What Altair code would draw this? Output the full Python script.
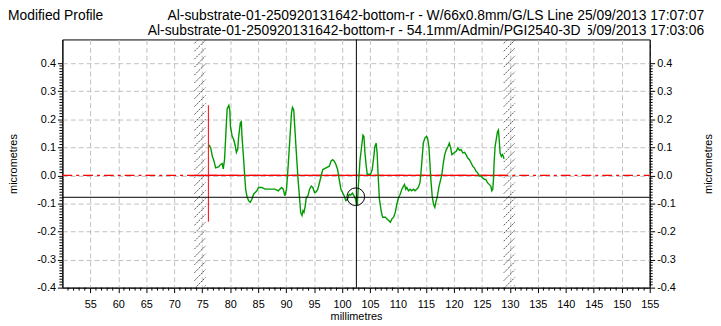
import altair as alt
import pandas as pd
import numpy as np

# ---------------- data ----------------
profile_mm = [
    76.22, 76.52, 76.81, 77.11, 77.40, 77.99, 78.28, 78.58, 78.76, 78.99, 79.17, 79.46, 79.76, 79.93,
    80.05, 80.35, 80.64, 80.93, 81.11, 81.35, 81.52, 81.82, 81.99, 82.11, 82.41, 82.59, 82.76, 83.00,
    83.29, 83.59, 83.88, 84.18, 84.47, 84.77, 85.06, 85.65, 86.24, 86.83, 87.42, 88.00, 88.59, 89.18,
    89.48, 89.77, 90.07, 90.36, 90.66, 90.95, 91.13, 91.36, 91.54, 91.83, 92.13, 92.42, 92.60, 92.84,
    93.01, 93.19, 93.43, 93.60, 93.90, 94.19, 94.49, 94.78, 95.08, 95.37, 95.66, 95.96, 96.25, 96.55,
    97.14, 97.73, 98.02, 98.31, 98.61, 98.90, 99.20, 99.49, 99.79, 100.08, 100.38, 100.67, 100.97,
    101.26, 101.55, 101.85, 102.14, 102.44, 102.62, 102.73, 102.91,
    103.21, 103.50, 103.73, 103.91, 104.09, 104.32, 104.50, 105.09, 105.39, 105.68, 105.86, 106.09,
    106.27, 106.45, 106.68, 107.03, 107.27, 107.74, 108.04, 108.33, 108.63, 108.92, 109.21, 109.51,
    109.80, 110.10, 110.39, 110.69, 110.98, 111.16, 111.39, 111.57, 111.87, 112.16, 112.45, 112.75,
    113.04, 113.34, 113.63, 113.93, 114.10, 114.34, 114.52, 114.81, 115.11, 115.28, 115.52, 115.70,
    115.87, 116.11, 116.34, 116.58, 116.76, 117.05, 117.34, 117.64, 117.88, 118.11, 118.35, 118.64,
    118.94, 119.17, 119.41, 119.64, 119.99, 120.41, 120.70, 121.00, 121.29, 121.59, 121.88, 122.18,
    122.47, 122.77, 123.06, 123.35, 123.65, 123.94, 124.24, 124.53, 124.83, 125.12, 125.42, 125.71,
    126.00, 126.30, 126.59, 126.77, 126.95, 127.07, 127.18, 127.36, 127.60, 127.78, 127.95, 128.07,
    128.25, 128.48, 128.66, 128.83, 128.95,
]
profile_um = [
    0.109, 0.098, 0.068, 0.051, 0.027, 0.031, 0.039, 0.042, 0.023, 0.056, 0.127, 0.238, 0.250, 0.233,
    0.174, 0.139, 0.127, 0.103, 0.082, 0.094, 0.139, 0.188, 0.191, 0.139, 0.056, -0.002, -0.049, -0.075,
    -0.090, -0.096, -0.085, -0.067, -0.061, -0.055, -0.043, -0.043, -0.049, -0.049, -0.049, -0.049, -0.055, -0.043,
    -0.049, -0.073, -0.049, 0.033, 0.127, 0.221, 0.242, 0.233, 0.174, 0.080, -0.014, -0.085, -0.132, -0.143,
    -0.126, -0.132, -0.108, -0.079, -0.073, -0.049, -0.038, -0.043, -0.061, -0.059, -0.049, -0.026, -0.002, 0.021,
    0.027, 0.033, 0.051, 0.056, 0.051, 0.039, 0.021, -0.014, -0.049, -0.061, -0.073, -0.090, -0.085,
    -0.067, -0.070, -0.063, -0.073, -0.085, -0.108, -0.102, -0.038,
    0.056, 0.103, 0.144, 0.139, 0.080, 0.033, 0.004, 0.004, 0.021, 0.068, 0.103, 0.115,
    0.080, -0.002, -0.085, -0.132, -0.149, -0.149, -0.155, -0.161, -0.167, -0.155, -0.149, -0.132,
    -0.102, -0.079, -0.067, -0.049, -0.038, -0.032, -0.049, -0.043, -0.055, -0.049, -0.055, -0.049,
    -0.055, -0.049, -0.043, -0.026, 0.009, 0.068, 0.115, 0.133, 0.139, 0.133, 0.103, 0.045,
    -0.014, -0.073, -0.102, -0.114, -0.096, -0.073, -0.038, -0.014, 0.009, 0.045, 0.074, 0.092,
    0.103, 0.115, 0.098, 0.074, 0.080, 0.086, 0.098, 0.089, 0.092, 0.080, 0.082, 0.074,
    0.062, 0.056, 0.045, 0.033, 0.027, 0.015, 0.009, -0.002, -0.002, -0.008, -0.014, -0.014,
    -0.026, -0.032, -0.038, -0.055, -0.049, -0.014, 0.045, 0.103, 0.133, 0.156, 0.162, 0.133,
    0.080, 0.068, 0.074, 0.068, 0.059,
]

x_tick_values = [55, 60, 65, 70, 75, 80, 85, 90, 95, 100, 105, 110, 115, 120, 125, 130, 135, 140, 145, 150, 155]
y_tick_values = [-0.4, -0.3, -0.2, -0.1, 0.0, 0.1, 0.2, 0.3, 0.4]

hatch_bands = [(73.6, 75.6), (128.9, 130.9)]   # mm
cursor_mm = 102.56
cursor_um = -0.078
marker_mm = 102.45
marker_um = -0.076
edge_mm = 76.1
edge_top, edge_bottom = 0.25, -0.165
zero_solid = (73.6, 129.2)

header_left = "Modified Profile"
header_line1 = "Al-substrate-01-250920131642-bottom-r - W/66x0.8mm/G/LS Line  25/09/2013 17:07:07"
header_line2a = "Al-substrate-01-250920131642-bottom-r - 54.1mm/Admin/PGI2540-3D"
header_line2b = "25/09/2013 17:03:06"

# ---------------- layout ----------------
XMIN, XMAX = 50, 155
YMIN, YMAX = -0.4, 0.4846
W, H = 594, 251
FONT = "Liberation Sans"
HSIZE = 14

xs = alt.Scale(domain=[XMIN, XMAX], nice=False, zero=False)
ys = alt.Scale(domain=[YMIN, YMAX], nice=False, zero=False)
lab = "replace(format(datum.value, '.1f'), '\u2212', '-')"

prof = pd.DataFrame({"mm": profile_mm, "um": profile_um})

axes_df = pd.DataFrame({"mm": [XMIN, XMAX], "um": [YMIN, YMAX]})
axes_layer = alt.Chart(axes_df).mark_point(opacity=0).encode(
    x=alt.X("mm:Q", scale=xs, title="millimetres",
            axis=alt.Axis(values=x_tick_values, grid=True, gridDash=[5, 3], gridColor="#c0c0c0",
                          tickSize=5, tickColor="black", domainColor="black", labelFont=FONT,
                          labelFontSize=11, labelColor="black", labelPadding=6, titleFont=FONT,
                          titleFontSize=11, titleFontWeight="normal", titleColor="black",
                          titlePadding=1, labelFlush=False, labelOverlap=False, orient="bottom")),
    y=alt.Y("um:Q", scale=ys, title="micrometres",
            axis=alt.Axis(values=y_tick_values, labelExpr=lab, grid=True, gridDash=[5, 3],
                          gridColor="#c0c0c0", tickSize=5, tickColor="black", domainColor="black",
                          labelFont=FONT, labelFontSize=11, labelColor="black", labelPadding=2,
                          titleFont=FONT, titleFontSize=11, titleFontWeight="normal",
                          titleColor="black", titleX=-49, titleY=H / 2, titleAngle=270,
                          titleBaseline="middle", titleAlign="center",
                          labelFlush=False, labelOverlap=False, orient="left")),
)

right_layer = alt.Chart(axes_df).mark_point(opacity=0).encode(
    y=alt.Y("um:Q", scale=ys, title="micrometres",
            axis=alt.Axis(values=y_tick_values, labelExpr=lab, grid=False, tickSize=5,
                          tickColor="black", domainColor="black", labelFont=FONT, labelFontSize=11,
                          labelColor="black", labelPadding=2, titleFont=FONT, titleFontSize=11,
                          titleFontWeight="normal", titleColor="black", titleX=59, titleY=H / 2,
                          titleAngle=270, titleBaseline="middle", titleAlign="center",
                          labelFlush=False, labelOverlap=False, orient="right")),
)

# minor ticks
minor_x = pd.DataFrame({"mm": [v for v in range(51, 156) if v % 5 != 0]})
minor_y = pd.DataFrame({"um": [round(v, 2) for v in np.arange(-0.39, 0.40, 0.01) if abs(round(v * 100)) % 10 != 0]})
mx = alt.Chart(minor_x).mark_rule(color="black", strokeWidth=1).encode(
    x=alt.X("mm:Q", scale=xs, axis=None), y=alt.value(H), y2=alt.value(H + 3))
myl = alt.Chart(minor_y).mark_rule(color="black", strokeWidth=1).encode(
    y=alt.Y("um:Q", scale=ys, axis=None), x=alt.value(-3), x2=alt.value(0))
myr = alt.Chart(minor_y).mark_rule(color="black", strokeWidth=1).encode(
    y=alt.Y("um:Q", scale=ys, axis=None), x=alt.value(W), x2=alt.value(W + 3))

# hatching of the excluded bands
hrows = []
for a, b in hatch_bands:
    for y0 in np.arange(-0.46, 0.50, 0.0282):
        hrows.append({"x1": a, "x2": b, "y1": y0, "y2": y0 + 0.0399})
hatch = alt.Chart(pd.DataFrame(hrows)).mark_rule(color="#555555", strokeWidth=1, strokeDash=[2, 1], clip=True).encode(
    x=alt.X("x1:Q", scale=xs, axis=None), x2="x2:Q",
    y=alt.Y("y1:Q", scale=ys, axis=None), y2="y2:Q")

zero_dash = alt.Chart(pd.DataFrame({"a": [XMIN], "b": [XMAX], "v": [0.0]})).mark_rule(
    color="red", strokeWidth=1.3, strokeDash=[10, 4, 3, 4]).encode(
    x=alt.X("a:Q", scale=xs, axis=None), x2="b:Q", y=alt.Y("v:Q", scale=ys, axis=None))
zero_solid_l = alt.Chart(pd.DataFrame({"a": [zero_solid[0]], "b": [zero_solid[1]], "v": [0.0]})).mark_rule(
    color="red", strokeWidth=1.3).encode(
    x=alt.X("a:Q", scale=xs, axis=None), x2="b:Q", y=alt.Y("v:Q", scale=ys, axis=None))
edge = alt.Chart(pd.DataFrame({"x": [edge_mm], "a": [edge_bottom], "b": [edge_top]})).mark_rule(
    color="red", strokeWidth=1).encode(
    x=alt.X("x:Q", scale=xs, axis=None), y=alt.Y("a:Q", scale=ys, axis=None), y2="b:Q")

cur_h = alt.Chart(pd.DataFrame({"v": [cursor_um]})).mark_rule(color="black", strokeWidth=1).encode(
    y=alt.Y("v:Q", scale=ys, axis=None))
cur_v = alt.Chart(pd.DataFrame({"x": [cursor_mm]})).mark_rule(color="black", strokeWidth=1).encode(
    x=alt.X("x:Q", scale=xs, axis=None))

line = alt.Chart(prof).mark_line(color="#009a00", strokeWidth=1.4).encode(
    x=alt.X("mm:Q", scale=xs, axis=None), y=alt.Y("um:Q", scale=ys, axis=None))

circle = alt.Chart(pd.DataFrame({"x": [marker_mm], "y": [marker_um]})).mark_point(
    shape="circle", size=320, filled=False, color="black", strokeWidth=1, opacity=1).encode(
    x=alt.X("x:Q", scale=xs, axis=None), y=alt.Y("y:Q", scale=ys, axis=None))

def txt(s, x, y, align, size=HSIZE):
    return alt.Chart(pd.DataFrame({"t": [s]})).mark_text(
        align=align, baseline="alphabetic", font=FONT, fontSize=size, color="black").encode(
        text="t:N", x=alt.value(x), y=alt.value(y))

t0 = txt(header_left, -55, -20, "left")
t1 = txt(header_line1, 649, -20, "right")
t2b = txt(header_line2b, 649, -4, "right")
cover2 = alt.Chart(pd.DataFrame({"k": [0]})).mark_rule(color="white", strokeWidth=13).encode(
    x=alt.value(525), y=alt.value(-16), y2=alt.value(-1))
t2a = txt(header_line2a, 524, -4, "right")

chart = alt.layer(
    axes_layer, right_layer, hatch, zero_dash, zero_solid_l, edge, line, cur_h, cur_v, circle,
    mx, myl, myr, t0, t1, t2b, cover2, t2a
).resolve_axis(y="independent", x="independent").properties(
    width=W, height=H,
    autosize=alt.AutoSizeParams(type="none"),
    padding={"left": 55, "top": 30, "right": 64, "bottom": 37},
    background="white",
).configure_view(stroke="black", strokeWidth=1)

chart.save("out.html", embed_options={"renderer": "svg", "actions": False})
